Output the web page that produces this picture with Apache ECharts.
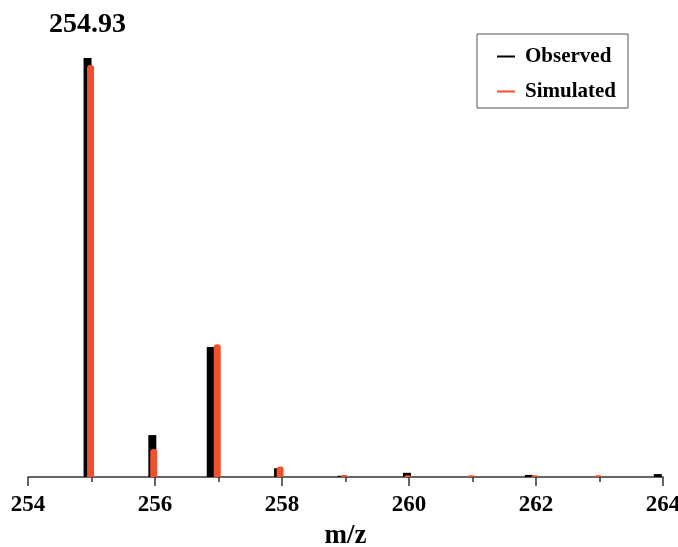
<!DOCTYPE html>
<html>
<head>
<meta charset="utf-8">
<script src="https://cdn.jsdelivr.net/npm/echarts@6/dist/echarts.min.js"></script>
<style>html,body{margin:0;padding:0;background:#fff;}#c{width:678px;height:547px;}</style>
</head>
<body>
<div id="c"></div>
<script>
const observedMz = [254.93, 255.95, 256.87, 257.93, 258.93, 259.96, 261.88, 263.91];
const observedInt = [100, 10.0, 31.0, 2.1, 0.3, 1.0, 0.5, 0.7];
const simulatedMz = [254.985, 255.98, 256.98, 257.97, 258.98, 259.98, 260.98, 261.98, 262.98];
const simulatedInt = [98.3, 6.7, 31.7, 2.5, 0.5, 0.4, 0.4, 0.4, 0.4];
const xTicks = [254, 256, 258, 260, 262, 264];
const peakLabel = '254.93';

const FONT = '"Liberation Serif", "Times New Roman", serif';
const chart = echarts.init(document.getElementById('c'), null, {renderer: 'canvas'});

const obsData = observedMz.map((m, i) => {
  const d = {value: [m, observedInt[i]]};
  if (i === 0) {
    d.label = {show: true, position: 'top', distance: 19, formatter: peakLabel,
      fontFamily: FONT, fontWeight: 'bold', fontSize: 28, color: '#000'};
  }
  return d;
});
const simData = simulatedMz.map((m, i) => [m, simulatedInt[i]]);

chart.setOption({
  animation: false,
  backgroundColor: '#fff',
  grid: {left: 28, right: 15, top: 58, bottom: 70, containLabel: false, outerBoundsMode: 'none'},
  legend: {
    orient: 'vertical', left: 477, top: 34,
    padding: [12, 12, 6, 20],
    borderColor: '#555', borderWidth: 1,
    itemWidth: 18, itemHeight: 2, itemGap: 14, icon: 'rect',
    textStyle: {fontFamily: FONT, fontWeight: 'bold', fontSize: 21, color: '#000', lineHeight: 20, padding: [0, 0, 0, 5]},
    data: ['Observed', 'Simulated']
  },
  xAxis: {
    type: 'value', min: 254, max: 264, interval: 2,
    name: 'm/z', nameLocation: 'middle', nameGap: 46,
    nameTextStyle: {fontFamily: FONT, fontWeight: 'bold', fontSize: 27, color: '#000'},
    axisLine: {show: true, onZero: false, lineStyle: {color: '#333', width: 1.5}},
    axisTick: {show: true, length: 9, lineStyle: {color: '#333', width: 1.5}},
    minorTick: {show: true, splitNumber: 2, length: 5, lineStyle: {color: '#333', width: 1.5}},
    axisLabel: {margin: 17, fontFamily: FONT, fontWeight: 'bold', fontSize: 23, color: '#000',
      formatter: v => xTicks.includes(v) ? String(v) : ''},
    splitLine: {show: false}, minorSplitLine: {show: false}
  },
  yAxis: {type: 'value', min: 0, max: 100, show: false, splitLine: {show: false}},
  series: [
    {name: 'Observed', type: 'bar', barWidth: 8, barGap: '-100%', data: obsData,
      itemStyle: {color: '#000'}},
    {name: 'Simulated', type: 'bar', barWidth: 7, barGap: '-100%', data: simData,
      itemStyle: {color: '#f0502a', borderRadius: [3, 3, 0, 0]}}
  ]
});
</script>
</body>
</html>
